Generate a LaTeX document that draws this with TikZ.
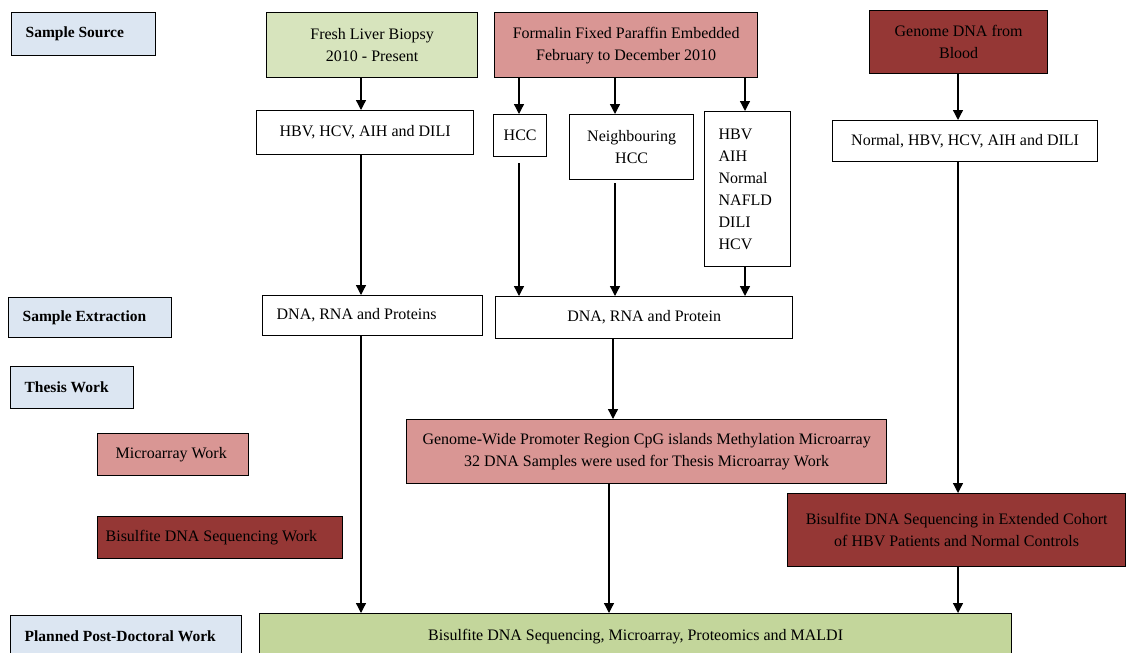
\documentclass[tikz,border=0pt]{standalone}
\usepackage{fontspec}
\setmainfont{Liberation Serif}
\usetikzlibrary{arrows.meta}
\definecolor{labblue}{HTML}{DCE6F2}
\definecolor{freshgreen}{HTML}{D7E4BD}
\definecolor{ffpepink}{HTML}{D99694}
\definecolor{darkred}{HTML}{953735}
\definecolor{finalgreen}{HTML}{C3D69B}
\tikzset{
  box/.style={draw=black, line width=1.3pt, inner ysep=0pt, anchor=north west,
              font=\fontsize{16}{22}\selectfont},
  lab/.style={box, fill=labblue, align=flush left, inner xsep=14pt,
              font=\fontsize{15.5}{22}\selectfont\bfseries},
  arr/.style={line width=1.3pt, -{Triangle[length=10pt,width=10pt]}},
}
\newcommand{\bx}[7]{% name, x1, y1, x2, y2, style, text
  \pgfmathsetmacro{\bw}{#4-#2}\pgfmathsetmacro{\bh}{#5-#3}%
  \node[box, minimum width=\bw pt, minimum height=\bh pt, #6] (#1) at (#2,#3) {#7};}
\begin{document}
\begin{tikzpicture}[x=1pt, y=-1pt]
\useasboundingbox (0,0) rectangle (1127,653);
\clip (0,0) rectangle (1127,653);
\fill[white] (0,0) rectangle (1127,653);

% row labels
\bx{src}{11}{12}{155}{55}{lab, text width=116pt}{Sample Source}
\bx{extr}{8}{297}{171}{337}{lab, text width=135pt}{Sample Extraction}
\bx{thesis}{10}{366}{133}{408}{lab, text width=95pt}{Thesis Work}
\bx{micro}{97}{433}{248}{475}{fill=ffpepink, align=flush left, inner xsep=18pt, text width=115pt}{Microarray Work}
\bx{bislab}{97}{516}{342}{558}{fill=darkred, align=flush left, inner xsep=8pt, text width=229pt}{Bisulfite DNA Sequencing Work}
\bx{planned}{10}{615}{241}{657}{lab, text width=203pt}{Planned Post-Doctoral Work}

% sample sources
\bx{fresh}{266}{12}{477}{77}{fill=freshgreen, align=center}{Fresh Liver Biopsy\\2010 - Present}
\bx{ffpe}{494}{12}{757}{77}{fill=ffpepink, align=center}{Formalin Fixed Paraffin Embedded\\February to December 2010}
\bx{blood}{869}{10}{1047}{73}{fill=darkred, align=center}{Genome DNA from\\Blood}

% sample groups
\bx{fl}{256}{110}{473}{154}{align=center}{HBV, HCV, AIH and DILI}
\bx{hcc}{493}{114}{546}{156}{align=center}{HCC}
\bx{nb}{569}{114}{693}{179}{align=center}{Neighbouring\\HCC}
\bx{list}{704}{111}{790}{266}{align=flush left, inner xsep=14pt, text width=58pt}{HBV\\AIH\\Normal\\NAFLD\\DILI\\HCV}
\bx{nrm}{832}{120}{1097}{161}{align=center}{Normal, HBV, HCV, AIH and DILI}

% extraction
\bx{dnal}{262}{295}{482}{335}{align=flush left, inner xsep=14pt, text width=192pt}{DNA, RNA and Proteins}
\bx{dnar}{495}{296}{792}{338}{align=center}{DNA, RNA and Protein}

% thesis work
\bx{gw}{406}{419}{886}{483}{fill=ffpepink, align=center}{Genome-Wide Promoter Region CpG islands Methylation Microarray\\32 DNA Samples were used for Thesis Microarray Work}
\bx{bisext}{787}{493}{1125}{566}{fill=darkred, align=center}{Bisulfite DNA Sequencing in Extended Cohort\\of HBV Patients and Normal Controls}

% post-doctoral work
\bx{final}{259}{613}{1011}{659}{fill=finalgreen, align=center}{Bisulfite DNA Sequencing, Microarray, Proteomics and MALDI}

% arrow columns
\coordinate (xa) at (361,0);
\coordinate (xb) at (519,0);
\coordinate (xc) at (615,0);
\coordinate (xd) at (745,0);
\coordinate (xe) at (613,0);
\coordinate (xf) at (609,0);
\coordinate (xg) at (958,0);

\draw[arr] (fresh.south -| xa) -- (fl.north -| xa);
\draw[arr] (fl.south -| xa) -- (dnal.north -| xa);
\draw[arr] (dnal.south -| xa) -- (final.north -| xa);

\draw[arr] (ffpe.south -| xb) -- (hcc.north -| xb);
\draw[arr] (ffpe.south -| xc) -- (nb.north -| xc);
\draw[arr] (ffpe.south -| xd) -- (list.north -| xd);

\draw[arr, shorten <=6pt] (hcc.south -| xb) -- (dnar.north -| xb);
\draw[arr, shorten <=3pt] (nb.south -| xc) -- (dnar.north -| xc);
\draw[arr] (list.south -| xd) -- (dnar.north -| xd);

\draw[arr] (dnar.south -| xe) -- (gw.north -| xe);
\draw[arr] (gw.south -| xf) -- (final.north -| xf);

\draw[arr] (blood.south -| xg) -- (nrm.north -| xg);
\draw[arr] (nrm.south -| xg) -- (bisext.north -| xg);
\draw[arr] (bisext.south -| xg) -- (final.north -| xg);
\end{tikzpicture}
\end{document}
